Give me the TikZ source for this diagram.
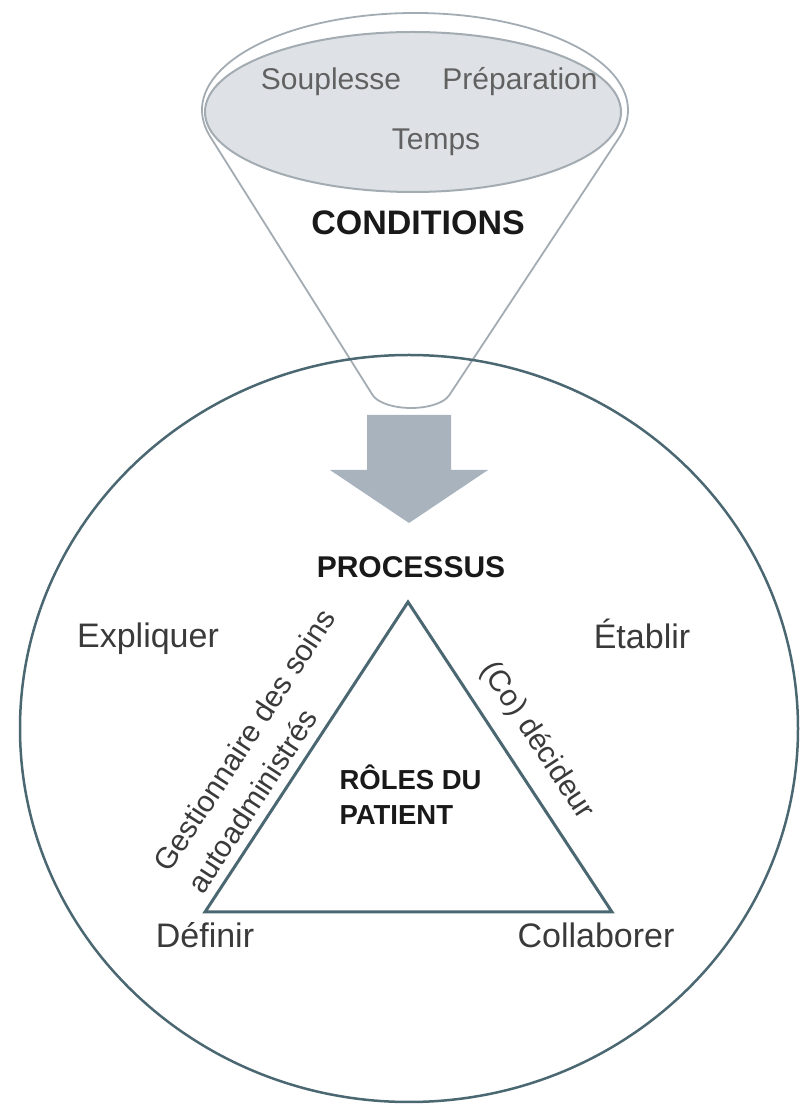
\documentclass[tikz,border=0pt]{standalone}
\usepackage{fontspec}
\setmainfont{Liberation Sans}
\usetikzlibrary{calc}

\definecolor{rimgray}{HTML}{A3ACB2}
\definecolor{capfill}{HTML}{DEE2E6}
\definecolor{ringteal}{HTML}{4B6872}
\definecolor{arrowgray}{HTML}{A8B3BD}
\definecolor{wordgray}{HTML}{3A3A3A}

\begin{document}
\begin{tikzpicture}[x=1pt,y=1pt]
	\tikzstyle{verb} = [text=wordgray, font=\fontsize{34}{40}\selectfont]
	\tikzstyle{cond} = [text=wordgray!80, font=\fontsize{30}{36}\selectfont]
	\tikzstyle{role} = [text=wordgray, font=\fontsize{30}{40}\selectfont]
	\tikzstyle{heading} = [text=black!90, font=\bfseries\fontsize{32}{38}\selectfont]
	\useasboundingbox (0,0) rectangle (800,1104);
	% funnel
	\coordinate (rim) at (415,994);
	\coordinate (cup) at (411,714);
	\draw[rimgray, line width=1.8pt] ($(rim)+(195.6:213 and 97)$)
		arc[start angle=195.6, end angle=-16.2, x radius=213, y radius=97]
		-- ($(cup)+(-16:40 and 18)$)
		arc[start angle=-16, end angle=-164.6, x radius=40, y radius=18] -- cycle;
	\draw[rimgray, line width=2pt, fill=capfill] (413,992) ellipse [x radius=208, y radius=80];
	\node[cond] (souplesse) at (331,1022) {Souplesse};
	\node[cond] (preparation) at (520,1022) {Préparation};
	\node[cond] (temps) at (436,962) {Temps};
	\node[heading, font=\bfseries\fontsize{34}{40}\selectfont] (conditions) at (418,881) {CONDITIONS};
	% process circle
	\draw[ringteal, line width=2.5pt] (409,375.5) ellipse [x radius=389, y radius=373.5];
	% arrow into the circle
	\fill[arrowgray] (367,689) -- (451,689) -- (451,634) -- (488,634) -- (409,581)
		-- (330,634) -- (367,634) -- cycle;
	\node[heading, font=\bfseries\fontsize{30}{36}\selectfont] (processus) at (411,537) {PROCESSUS};
	% roles triangle
	\coordinate (top) at (408,502);
	\coordinate (left) at (205,192);
	\coordinate (right) at (612,192);
	\draw[ringteal, line width=3pt] (top) -- (left) -- (right) -- cycle;
	\node[heading, font=\bfseries\fontsize{27.5}{35}\selectfont, align=left, anchor=west] (roles) at (336,309) {RÔLES DU\\PATIENT};
	\node[role, rotate=56.8, align=left] (gestion) at (261,353) {Gestionnaire des soins\\autoadministrés};
	\node[role, rotate=-56.7] (decideur) at (537,363) {(Co) décideur};
	% verbs
	\node[verb, anchor=base] (expliquer) at (148,456) {Expliquer};
	\node[verb, anchor=base] (etablir) at (642,455) {Établir};
	\node[verb, anchor=base] (definir) at (205,156) {Définir};
	\node[verb, anchor=base] (collaborer) at (596,156) {Collaborer};
\end{tikzpicture}
\end{document}
